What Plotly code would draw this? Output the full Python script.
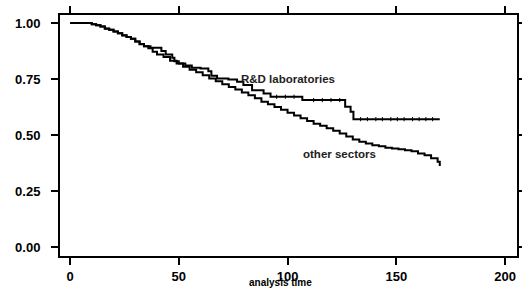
import plotly.graph_objects as go

# Kaplan-Meier step data
other_t = [0, 10, 12, 14, 16, 18, 20, 22, 24, 26, 28, 30, 32, 34, 36, 38, 40, 43, 46, 49,
           52, 55, 58, 61, 64, 67, 70, 73, 76, 79, 82, 85, 88, 91, 94, 97, 100, 103, 106,
           109, 112, 115, 118, 121, 124, 127, 130, 133, 136, 139, 142, 145, 148, 151, 154,
           157, 160, 163, 166, 169, 170]
other_s = [1.0, 0.995, 0.99, 0.985, 0.975, 0.97, 0.962, 0.955, 0.945, 0.938, 0.93, 0.918,
           0.905, 0.897, 0.888, 0.872, 0.86, 0.848, 0.832, 0.82, 0.805, 0.792, 0.78, 0.767,
           0.752, 0.74, 0.727, 0.715, 0.703, 0.69, 0.678, 0.664, 0.649, 0.637, 0.625, 0.613,
           0.6, 0.587, 0.575, 0.563, 0.551, 0.541, 0.53, 0.519, 0.507, 0.494, 0.48, 0.47,
           0.462, 0.455, 0.45, 0.443, 0.44, 0.437, 0.432, 0.428, 0.418, 0.41, 0.396, 0.381,
           0.362]

rd_t = [0, 10, 12, 14, 16, 18, 20, 22, 24, 26, 28, 30, 32, 34, 37, 42, 44, 47, 48, 50, 53,
        56, 60, 63.6, 65, 67.6, 72.8, 76.8, 79.7, 83.7, 89, 92.2, 106.8, 126.5, 129, 130.3,
        170]
rd_s = [1.0, 0.995, 0.99, 0.985, 0.976, 0.97, 0.962, 0.955, 0.946, 0.938, 0.93, 0.918, 0.906,
        0.897, 0.89, 0.875, 0.86, 0.845, 0.83, 0.82, 0.81, 0.8, 0.797, 0.785, 0.765, 0.753,
        0.748, 0.738, 0.723, 0.7, 0.686, 0.671, 0.656, 0.626, 0.604, 0.571, 0.571]

# censoring marks on the R&D curve
rd_cens_t = [95, 99, 103, 112, 116, 120, 124, 133.6, 136.7, 140.6, 143.6, 147.5, 150.5,
             153.6, 157.5, 160.5, 163.6, 166.7]
rd_cens_s = [0.671, 0.671, 0.671, 0.656, 0.656, 0.656, 0.656, 0.571, 0.571, 0.571, 0.571,
             0.571, 0.571, 0.571, 0.571, 0.571, 0.571, 0.571]

x_ticks = [0, 50, 100, 150, 200]
y_ticks = [0.0, 0.25, 0.5, 0.75, 1.0]
y_tick_text = ["0.00", "0.25", "0.50", "0.75", "1.00"]

labels = ["R&D laboratories", "other sectors"]
label_t = [77.5, 106]
label_s = [0.752, 0.415]

FONT = "Liberation Sans, Arial, sans-serif"

fig = go.Figure()
fig.add_trace(go.Scatter(x=rd_t, y=rd_s, mode="lines", line=dict(color="black", width=2, shape="hv"),
                         showlegend=False, hoverinfo="skip"))
fig.add_trace(go.Scatter(x=other_t, y=other_s, mode="lines", line=dict(color="black", width=2, shape="hv"),
                         showlegend=False, hoverinfo="skip"))
fig.add_trace(go.Scatter(x=rd_cens_t, y=rd_cens_s, mode="markers",
                         marker=dict(symbol="line-ns", size=3, line=dict(color="black", width=1)),
                         showlegend=False, hoverinfo="skip"))

for txt, tx, sy in zip(labels, label_t, label_s):
    fig.add_annotation(x=tx, y=sy, text=txt, showarrow=False, xanchor="left", yanchor="middle",
                       font=dict(family=FONT, size=11.5, color="#222", weight="bold"))

fig.add_annotation(x=0.482, y=0, xref="paper", yref="paper", text="analysis time", showarrow=False,
                   xanchor="center", yanchor="top", yshift=-19,
                   font=dict(family=FONT, size=10, color="black", weight="bold"))

fig.update_layout(
    width=522, height=289,
    margin=dict(l=60, r=5, t=15, b=33),
    plot_bgcolor="white", paper_bgcolor="white",
    xaxis=dict(range=[-4.6, 205.5], tickvals=x_ticks, ticks="outside", ticklen=7, tickwidth=2,
               tickcolor="black", showline=True, linewidth=2, linecolor="black", mirror="ticks",
               showgrid=False, zeroline=False, automargin=False,
               tickfont=dict(family=FONT, size=13, color="black", weight="bold")),
    yaxis=dict(range=[-0.04, 1.036], tickvals=y_ticks, ticktext=y_tick_text, ticks="outside",
               ticklen=7, tickwidth=2, tickcolor="black", showline=True, linewidth=2,
               linecolor="black", mirror="ticks", showgrid=False, zeroline=False,
               ticklabelstandoff=8, automargin=False,
               tickfont=dict(family=FONT, size=13, color="black", weight="bold")),
)

# remove the default page margin so the 522x289 figure fills the window exactly
fig.write_html("out.html", config={"displayModeBar": False},
               post_script="document.body.style.margin='0px';document.body.style.overflow='hidden';")
